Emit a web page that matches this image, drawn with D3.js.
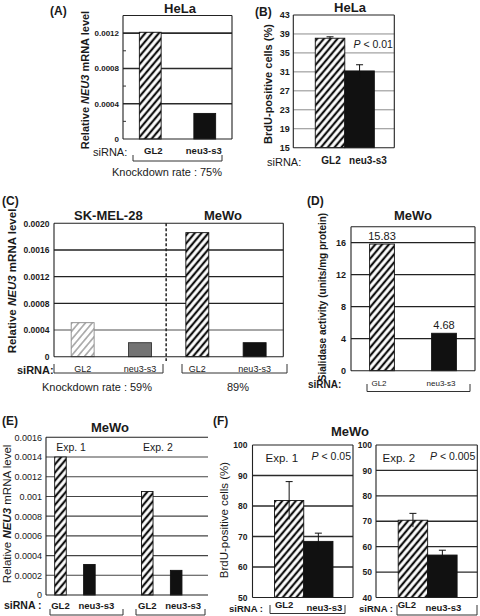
<!DOCTYPE html>
<html><head><meta charset="utf-8">
<script src="https://cdn.jsdelivr.net/npm/d3@7"></script>
<style>body{margin:0;background:#fff}svg{display:block}</style>
</head><body><svg id="c" width="480" height="616"></svg>
<script>
// ---------- DATA ----------
// (A) HeLa relative NEU3 mRNA
const aCategories = ["GL2", "neu3-s3"];
const aValues = [0.00121, 0.00029];
const aTicks = [0, 0.0004, 0.0008, 0.0012];
const aTickLabels = ["0", "0.0004", "0.0008", "0.0012"];
const aMinorTicks = [0.0002, 0.0006, 0.0010];
const aKnockdown = "Knockdown rate : 75%";
// (B) HeLa BrdU-positive cells
const bCategories = ["GL2", "neu3-s3"];
const bValues = [38.1, 31.2];
const bErrors = [0.3, 1.3];
const bTicks = [15, 19, 23, 27, 31, 35, 39, 43];
const bP = "0.01";
// (C) SK-MEL-28 / MeWo relative NEU3 mRNA
const cGroups = ["SK-MEL-28", "MeWo"];
const cCategories = ["GL2", "neu3-s3", "GL2", "neu3-s3"];
const cValues = [0.00051, 0.00021, 0.00186, 0.00021];
const cTicks = [0, 0.0004, 0.0008, 0.0012, 0.0016, 0.0020];
const cTickLabels = ["0", "0.0004", "0.0008", "0.0012", "0.0016", "0.0020"];
const cKnockdown = ["Knockdown rate : 59%", "89%"];
// (D) MeWo sialidase activity
const dCategories = ["GL2", "neu3-s3"];
const dValues = [15.83, 4.68];
const dTicks = [0, 4, 8, 12, 16];
// (E) MeWo relative NEU3 mRNA, two experiments
const eExperiments = ["Exp. 1", "Exp. 2"];
const eCategories = ["GL2", "neu3-s3"];
const eValues = [[0.0014, 0.00031], [0.00105, 0.00025]];
const eTicks = [0, 0.0002, 0.0004, 0.0006, 0.0008, 0.001, 0.0012, 0.0014, 0.0016];
const eTickLabels = ["0", "0.0002", "0.0004", "0.0006", "0.0008", "0.001", "0.0012", "0.0014", "0.0016"];
// (F) MeWo BrdU-positive cells, two experiments
const fExperiments = ["Exp. 1", "Exp. 2"];
const fCategories = ["GL2", "neu3-s3"];
const fValues = [[81.8, 68.4], [70.4, 56.7]];
const fErrors = [[6.2, 2.7], [2.7, 1.9]];
const fTicks = [[50, 60, 70, 80, 90, 100], [40, 50, 60, 70, 80, 90, 100]];
const fP = ["0.05", "0.005"];

// ---------- HELPERS ----------
const FONT = '"Liberation Sans", Arial, Helvetica, sans-serif';
const INK = "#1a1a1a";
const svg = d3.select("#c");
const defs = svg.append("defs");
function hatch(id, color, sw, period) {
  const p = defs.append("pattern").attr("id", id).attr("patternUnits", "userSpaceOnUse")
    .attr("width", period).attr("height", period).attr("patternTransform", "rotate(40)");
  p.append("rect").attr("width", period).attr("height", period).attr("fill", "#fff");
  p.append("line").attr("x1", period / 2).attr("x2", period / 2).attr("y1", 0).attr("y2", period)
    .attr("stroke", color).attr("stroke-width", sw);
}
hatch("h", "#111", 2.2, 5.2);
hatch("hg", "#9a9a9a", 1.4, 5.2);

function txt(x, y, s, o = {}) {
  const t = svg.append("text").attr("x", x).attr("y", y)
    .attr("font-family", FONT).attr("font-size", o.size || 11)
    .attr("font-weight", o.weight || "normal").attr("text-anchor", o.anchor || "start")
    .attr("fill", INK);
  if (o.italic) t.attr("font-style", "italic");
  t.text(s);
  return t;
}
function ptxt(x, y, p, o = {}) {
  const t = svg.append("text").attr("x", x).attr("y", y)
    .attr("font-family", FONT).attr("font-size", o.size || 10.5)
    .attr("text-anchor", o.anchor || "start").attr("fill", INK);
  t.append("tspan").attr("font-style", "italic").text("P");
  t.append("tspan").text(" < " + p);
}
function ylabel(x, y, parts, o = {}) {
  const t = svg.append("text").attr("transform", `translate(${x},${y}) rotate(-90)`)
    .attr("font-family", FONT).attr("font-size", o.size || 11)
    .attr("font-weight", o.weight || "bold").attr("text-anchor", "middle")
    .attr("dy", "0.35em").attr("fill", INK);
  parts.forEach(([s, it, b]) => {
    const sp = t.append("tspan").text(s);
    if (it) sp.attr("font-style", "italic");
    if (b) sp.attr("font-weight", "bold");
  });
}
function bracket(x1, x2, yb, ytop) {
  svg.append("path").attr("d", `M${x1},${ytop}V${yb}H${x2}V${ytop}`)
    .attr("fill", "none").attr("stroke", "#333").attr("stroke-width", 1);
}
function frame(cfg) {
  const y = d3.scaleLinear().domain(cfg.domain).range([cfg.y1, cfg.y0]);
  const grid = svg.append("g");
  grid.selectAll("line").data(cfg.ticks.filter(t => t > cfg.domain[0] && t < cfg.domain[1]))
    .join("line")
    .attr("x1", cfg.x0).attr("x2", cfg.x1)
    .attr("y1", d => y(d)).attr("y2", d => y(d))
    .attr("stroke", d => cfg.gridFn ? cfg.gridFn(d) : cfg.grid)
    .attr("stroke-width", cfg.gridW);
  const bars = svg.append("g");
  const top = svg.append("g");
  const sides = cfg.sides || "tlrb";
  const seg = [];
  if (sides.includes("t")) seg.push(`M${cfg.x0},${cfg.y0}H${cfg.x1}`);
  if (sides.includes("l")) seg.push(`M${cfg.x0},${cfg.y0}V${cfg.y1}`);
  if (sides.includes("r")) seg.push(`M${cfg.x1},${cfg.y0}V${cfg.y1}`);
  if (sides.includes("b")) seg.push(`M${cfg.x0},${cfg.y1}H${cfg.x1}`);
  top.append("path").attr("d", seg.join("")).attr("fill", "none")
    .attr("stroke", cfg.boxColor || "#222").attr("stroke-width", cfg.boxW || 1.1);
  const ax = top.append("g").attr("transform", `translate(${cfg.x0},0)`)
    .call(d3.axisLeft(y).tickValues(cfg.ticks)
      .tickFormat((d, i) => cfg.labels ? cfg.labels[i] : d)
      .tickSize(0).tickPadding(cfg.pad));
  ax.select(".domain").remove();
  ax.selectAll("text").attr("font-size", cfg.fs).attr("font-weight", cfg.fw)
    .attr("font-family", FONT).attr("fill", INK);
  return { y, bars, top };
}
function drawBars(layer, data, y, base) {
  layer.selectAll("rect.bar").data(data).join("rect").attr("class", "bar")
    .attr("x", d => d.x).attr("width", d => d.w)
    .attr("y", d => y(d.v)).attr("height", d => y(base) - y(d.v))
    .attr("fill", d => d.fill).attr("stroke", d => d.stroke || "#111").attr("stroke-width", 0.9);
}
function drawErr(layer, data, y) {
  data.forEach(d => {
    const cx = d.x + d.w / 2;
    layer.append("path")
      .attr("d", `M${cx},${y(d.v - d.e)}V${y(d.v + d.e)}M${cx - 3.5},${y(d.v + d.e)}H${cx + 3.5}`)
      .attr("stroke", "#111").attr("stroke-width", 1).attr("fill", "none");
  });
}

// ---------- (A) ----------
{
  const F = frame({ x0: 123, x1: 232, y0: 15.5, y1: 139, domain: [0, 0.0014], ticks: aTicks,
    labels: aTickLabels, grid: "#2a2a2a", gridW: 1.6, fs: 8, fw: "bold", pad: 4 });
  const x = d3.scaleBand().domain(aCategories).range([123, 232]).paddingInner(0.6).paddingOuter(0.3);
  drawBars(F.bars, aCategories.map((c, i) => ({ x: x(c), w: x.bandwidth(), v: aValues[i],
    fill: i === 0 ? "url(#h)" : "#111" })), F.y, 0);
  F.top.selectAll("line.minor").data(aMinorTicks).join("line").attr("class", "minor")
    .attr("x1", 123).attr("x2", 126).attr("y1", d => F.y(d)).attr("y2", d => F.y(d))
    .attr("stroke", "#333").attr("stroke-width", 1);
  txt(50, 15, "(A)", { size: 12, weight: "bold" });
  txt(180, 12.5, "HeLa", { size: 13, weight: "bold", anchor: "middle" });
  ylabel(85, 80, [["Relative "], ["NEU3", true], [" mRNA level"]], { size: 11 });
  txt(93, 156, "siRNA:", { size: 11 });
  aCategories.forEach((c, i) => txt(x(c) + x.bandwidth() / 2 + (i ? -1 : 3), 153.5, c,
    { size: 9.5, weight: "bold", anchor: "middle" }));
  bracket(133, 222, 161, 155);
  txt(167, 176, aKnockdown, { size: 11, anchor: "middle" });
}

// ---------- (B) ----------
{
  const F = frame({ x0: 293.3, x1: 394.3, y0: 15, y1: 147.7, domain: [15, 43], ticks: bTicks,
    grid: "#8c8c8c", gridW: 1, fs: 9, fw: "bold", pad: 3.5 });
  const x = d3.scaleBand().domain(bCategories).range([293.3, 394.3]).paddingInner(0).paddingOuter(0.71);
  const data = bCategories.map((c, i) => ({ x: x(c) + 1, w: x.bandwidth(), v: bValues[i], e: bErrors[i],
    fill: i === 0 ? "url(#h)" : "#111" }));
  drawBars(F.bars, data, F.y, 15);
  drawErr(F.bars, data, F.y);
  ptxt(353.5, 47.5, bP, { size: 10.5 });
  txt(255, 16, "(B)", { size: 12, weight: "bold" });
  txt(350, 12, "HeLa", { size: 13, weight: "bold", anchor: "middle" });
  ylabel(268, 84, [["BrdU-positive cells (%)"]], { size: 11 });
  txt(267, 165.5, "siRNA:", { size: 11 });
  txt(331, 164, bCategories[0], { size: 10, weight: "bold", anchor: "middle" });
  txt(368, 164, bCategories[1], { size: 10, weight: "bold", anchor: "middle" });
}

// ---------- (C) ----------
{
  const F = frame({ x0: 54, x1: 283.3, y0: 223.3, y1: 356.7, domain: [0, 0.002], ticks: cTicks,
    labels: cTickLabels, grid: "#222", gridFn: d => d === 0.0004 ? "#8a8a8a" : "#222",
    gridW: 1.3, fs: 8.5, fw: "bold", pad: 4.5 });
  const idx = d3.range(cCategories.length);
  const x = d3.scaleBand().domain(idx).range([54, 283.3]).paddingInner(0.6).paddingOuter(0.3);
  const fills = ["url(#hg)", "#737373", "url(#h)", "#111"];
  const strokes = ["#8a8a8a", "#333", "#111", "#111"];
  drawBars(F.bars, idx.map(i => ({ x: x(i), w: x.bandwidth(), v: cValues[i], fill: fills[i], stroke: strokes[i] })), F.y, 0);
  const mid = (x(1) + x.bandwidth() + x(2)) / 2 - 2.5;
  svg.append("line").attr("x1", mid).attr("x2", mid).attr("y1", 223.3).attr("y2", 361)
    .attr("stroke", "#222").attr("stroke-width", 1.5).attr("stroke-dasharray", "3,2");
  cGroups.forEach((g, k) => {
    const cx = (x(2 * k) + x(2 * k + 1) + x.bandwidth()) / 2;
    txt(cx - 3, 220, g, { size: 13, weight: "bold", anchor: "middle" });
  });
  txt(2, 205, "(C)", { size: 12, weight: "bold" });
  ylabel(12, 281, [["Relative "], ["NEU3", true], [" mRNA level"]], { size: 11.5 });
  txt(17, 373.5, "siRNA:", { size: 11, weight: "bold" });
  idx.forEach(i => txt(x(i) + x.bandwidth() / 2, 372, cCategories[i], { size: 9, anchor: "middle" }));
  bracket(54, 163, 373, 364);
  bracket(182, 287, 373, 364);
  txt(97, 391, cKnockdown[0], { size: 11, anchor: "middle" });
  txt(238, 391, cKnockdown[1], { size: 11, anchor: "middle" });
}

// ---------- (D) ----------
{
  const F = frame({ x0: 351, x1: 475, y0: 226.7, y1: 370.7, domain: [0, 18], ticks: dTicks,
    grid: "#222", gridW: 1.3, fs: 9, fw: "bold", pad: 5 });
  const x = d3.scaleBand().domain(dCategories).range([351, 475]).paddingInner(0.6).paddingOuter(0.3);
  drawBars(F.bars, dCategories.map((c, i) => ({ x: x(c), w: x.bandwidth(), v: dValues[i],
    fill: i === 0 ? "url(#h)" : "#111" })), F.y, 0);
  dCategories.forEach((c, i) => txt(x(c) + x.bandwidth() / 2, F.y(dValues[i]) - 4.5, dValues[i].toFixed(2),
    { size: 11, anchor: "middle" }));
  txt(307, 205, "(D)", { size: 12, weight: "bold" });
  txt(413, 220, "MeWo", { size: 13, weight: "bold", anchor: "middle" });
  ylabel(322.5, 297, [["Sialidase activity (units/mg protein)"]], { size: 10 });
  txt(308, 388, "siRNA:", { size: 10, weight: "bold" });
  dCategories.forEach(c => txt(x(c) + x.bandwidth() / 2 - 3, 386, c, { size: 8, anchor: "middle" }));
  bracket(367, 470, 391.5, 384);
}

// ---------- (E) ----------
{
  const F = frame({ x0: 46, x1: 208, y0: 437.3, y1: 595, domain: [0, 0.0016], ticks: eTicks,
    labels: eTickLabels, grid: "#444", gridW: 1.1, fs: 9, fw: "normal", pad: 4, sides: "tlb" });
  const x = d3.scaleLinear().domain([-0.5, 5.1]).range([46, 208]);
  const bw = (x(1) - x(0)) * 0.4;
  const data = [];
  eExperiments.forEach((ex, g) => eCategories.forEach((c, i) => {
    data.push({ x: x(g * 3 + i) - bw / 2, w: bw, v: eValues[g][i], fill: i === 0 ? "url(#h)" : "#111" });
  }));
  drawBars(F.bars, data, F.y, 0);
  eExperiments.forEach((ex, g) => txt(x(g * 3) - bw / 2 + 1.5, 451, ex, { size: 10.5 }));
  txt(2, 425, "(E)", { size: 12, weight: "bold" });
  txt(110, 432, "MeWo", { size: 13, weight: "bold", anchor: "middle" });
  ylabel(7, 514, [["Relative "], ["NEU3", true, true], [" mRNA level"]], { size: 11.5, weight: "normal" });
  txt(4, 609, "siRNA :", { size: 10.5, weight: "bold" });
  eExperiments.forEach((ex, g) => eCategories.forEach((c, i) =>
    txt(x(g * 3 + i) + (i ? 7 : 0), 608.5, c, { size: 9.5, weight: "bold", anchor: "middle" })));
  bracket(50, 123, 615, 609);
  bracket(136, 205, 615, 609);
}

// ---------- (F) ----------
{
  const boxes = [{ x0: 252.5, x1: 353 }, { x0: 376, x1: 477.3 }];
  const pads = [5, 4];
  fExperiments.forEach((ex, g) => {
    const b = boxes[g];
    const F = frame({ x0: b.x0, x1: b.x1, y0: 445, y1: 597.5,
      domain: [fTicks[g][0], fTicks[g][fTicks[g].length - 1]], ticks: fTicks[g],
      grid: "#2a2a2a", gridW: 1.3, fs: 8.5, fw: "bold", pad: pads[g] });
    const x = d3.scaleBand().domain(fCategories).range([b.x0, b.x1]).paddingInner(0).paddingOuter(0.72);
    const data = fCategories.map((c, i) => ({ x: x(c) + 1, w: x.bandwidth(), v: fValues[g][i], e: fErrors[g][i],
      fill: i === 0 ? "url(#h)" : "#111" }));
    drawBars(F.bars, data, F.y, fTicks[g][0]);
    drawErr(F.bars, data, F.y);
    txt(b.x0 + (g ? 6.5 : 13), 462, ex, { size: 11.5 });
    ptxt(b.x1 - 2, 459.5, fP[g], { size: 10.5, anchor: "end" });
    const lab = g ? 359 : 229;
    txt(lab, 611.5, "siRNA :", { size: 9.5, weight: "bold" });
    txt(x(fCategories[0]) + x.bandwidth() / 2 - (g ? 5 : 4), 608, fCategories[0], { size: 9.5, weight: "bold", anchor: "middle" });
    txt(x(fCategories[1]) + x.bandwidth() / 2 + (g ? 2 : 7), 611, fCategories[1], { size: 9.5, weight: "bold", anchor: "middle" });
    if (g === 0) bracket(270, 345, 613.5, 605); else bracket(397, 477, 615, 605);
  });
  txt(213, 425, "(F)", { size: 12, weight: "bold" });
  txt(350, 436, "MeWo", { size: 13, weight: "bold", anchor: "middle" });
  ylabel(224, 520, [["BrdU-positive cells (%)"]], { size: 11.5, weight: "normal" });
}
</script></body></html>
